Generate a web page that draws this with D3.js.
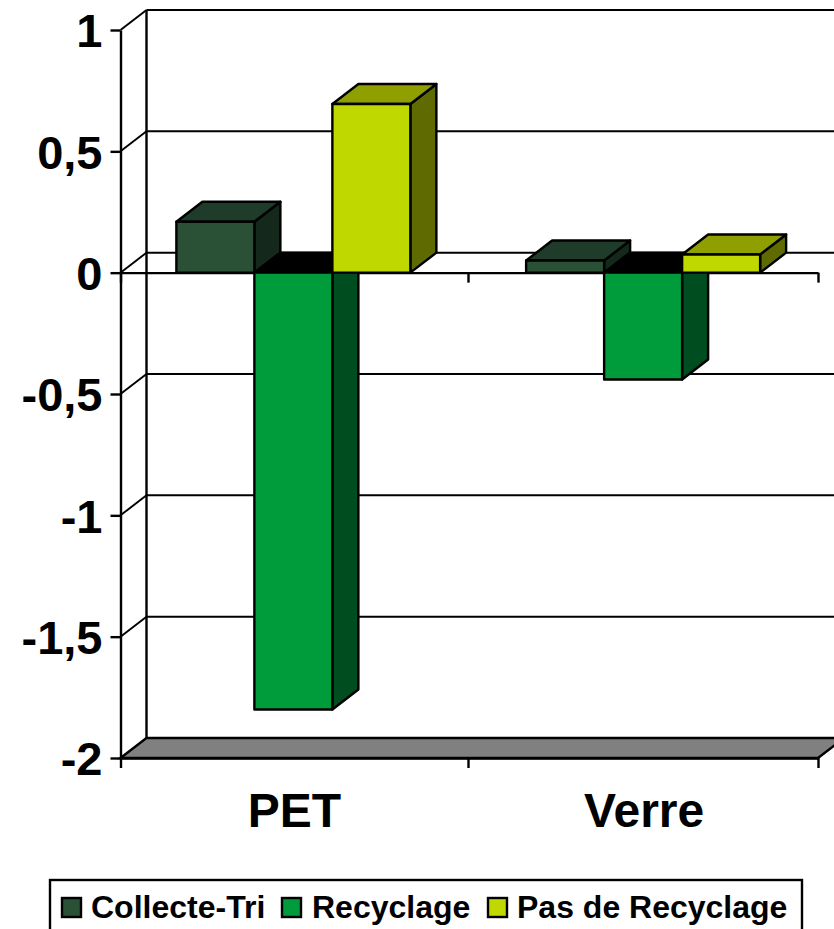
<!DOCTYPE html>
<html>
<head>
<meta charset="utf-8">
<style>
html, body { margin: 0; padding: 0; background: #fff; overflow: hidden; }
svg { display: block; font-family: "Liberation Sans", Arial, sans-serif; font-weight: bold; }
</style>
<script src="https://cdn.jsdelivr.net/npm/d3@7"></script>
</head>
<body>
<svg></svg>
<script>
const categories = ['PET', 'Verre']
const seriesNames = ['Collecte-Tri', 'Recyclage', 'Pas de Recyclage']
const collecteTri = [0.21, 0.05]
const recyclage = [-1.80, -0.44]
const pasDeRecyclage = [0.695, 0.075]
const yTicks = [1, 0.5, 0, -0.5, -1, -1.5, -2]
const yTickLabels = ['1', '0,5', '0', '-0,5', '-1', '-1,5', '-2']
const seriesValues = [collecteTri, recyclage, pasDeRecyclage]

// front, top, side
const colors = [
	['#2a5035', '#1f3b29', '#14291b'],
	['#009c3b', '#000000', '#004d1f'],
	['#bfd800', '#8f9f00', '#5f6b00']
]

const width = 834, height = 929
const plotL = 120.5, plotM = 468, plotR = 818, plotT = 30, plotB = 758
const depthX = 26, depthY = -20
const lw = 2.4

const svg = d3.select('svg').attr('width', width).attr('height', height)

const scY = d3.scaleLinear().domain([-2, 1]).range([plotB, plotT])
const scX = d3.scaleBand().domain(categories).range([119.5, 819])
const scEdge = d3.scaleLinear().domain([0, 1, 2]).range([plotL, plotM, plotR])
const scBar = d3.scaleBand().domain(d3.range(seriesNames.length))
	.range([-1, scX.bandwidth() - 1]).paddingOuter(0.742).paddingInner(0)

const pts = a => a.map(p => p.join(',')).join(' ')

// walls and floor
const wall = svg.append('g')

wall.append('polygon')
	.attr('points', pts([[plotL, plotB], [plotL + depthX, plotB + depthY], [plotR + depthX, plotB + depthY], [plotR, plotB]]))
	.attr('fill', '#808080').attr('stroke', '#000').attr('stroke-width', lw)

wall.selectAll('line.grid')
	.data(yTicks.filter(d => d != -2)).enter().append('line')
	.attr('class', 'grid')
	.attr('x1', plotL + depthX).attr('x2', width + 10)
	.attr('y1', d => scY(d) + depthY).attr('y2', d => scY(d) + depthY)
	.attr('stroke', '#000').attr('stroke-width', lw * 0.8)

wall.selectAll('line.diag')
	.data(yTicks.filter(d => d != -2)).enter().append('line')
	.attr('class', 'diag')
	.attr('x1', plotL).attr('x2', plotL + depthX)
	.attr('y1', d => scY(d)).attr('y2', d => scY(d) + depthY)
	.attr('stroke', '#000').attr('stroke-width', lw * 0.8)

wall.append('line')
	.attr('x1', plotL + depthX).attr('x2', plotL + depthX)
	.attr('y1', scY(1) + depthY).attr('y2', plotB + depthY)
	.attr('stroke', '#000').attr('stroke-width', lw)

// axis on the zero plane
let zeroAxis = svg.append('g')
	.attr('transform', `translate(0, ${scY(0)})`)
	.call(d3.axisBottom(scEdge).tickValues([0, 1, 2]).tickSize(10).tickSizeOuter(0).tickFormat(''))
zeroAxis.selectAll('path, line').attr('stroke', '#000').attr('stroke-width', lw)

// bars
const bars = svg.append('g')
seriesValues.forEach((vals, s) => {
	vals.forEach((v, c) => {
		let x0 = scX(categories[c]) + scBar(s)
		let x1 = x0 + scBar.bandwidth()
		let yTop = scY(Math.max(v, 0))
		let yBot = scY(Math.min(v, 0))
		let g = bars.append('g')
			.attr('stroke', '#000').attr('stroke-width', lw).attr('stroke-linejoin', 'round')
		g.append('polygon')
			.attr('points', pts([[x1, yTop], [x1 + depthX, yTop + depthY], [x1 + depthX, yBot + depthY], [x1, yBot]]))
			.attr('fill', colors[s][2])
		g.append('polygon')
			.attr('points', pts([[x0, yTop], [x0 + depthX, yTop + depthY], [x1 + depthX, yTop + depthY], [x1, yTop]]))
			.attr('fill', colors[s][1])
		g.append('rect')
			.attr('x', x0).attr('y', yTop)
			.attr('width', x1 - x0).attr('height', yBot - yTop)
			.attr('fill', colors[s][0])
	})
})

// value axis
let yAxis = svg.append('g')
	.attr('transform', `translate(${plotL}, 0)`)
	.call(d3.axisLeft(scY).tickValues(yTicks).tickSize(10).tickSizeOuter(0).tickPadding(8)
		.tickFormat((d, i) => yTickLabels[i]))
yAxis.selectAll('path, line').attr('stroke', '#000').attr('stroke-width', lw)
yAxis.selectAll('text')
	.attr('fill', '#000')
	.style('font-family', '"Liberation Sans", Arial, sans-serif')
	.style('font-weight', 'bold')
	.style('font-size', '47px')
	.attr('dy', '.36em')

// bottom axis: ticks on band edges, labels from the band scale
let edgeAxis = svg.append('g')
	.attr('transform', `translate(0, ${plotB})`)
	.call(d3.axisBottom(scEdge).tickValues([0, 1, 2]).tickSize(10).tickSizeOuter(0).tickFormat(''))
edgeAxis.selectAll('path, line').attr('stroke', '#000').attr('stroke-width', lw)

let catAxis = svg.append('g')
	.attr('transform', `translate(0, ${plotB})`)
	.call(d3.axisBottom(scX).tickSize(0).tickPadding(35))
catAxis.select('path').remove()
catAxis.selectAll('text')
	.attr('fill', '#000')
	.style('font-family', '"Liberation Sans", Arial, sans-serif')
	.style('font-weight', 'bold')
	.style('font-size', '48px')

// legend
const legend = svg.append('g')
legend.append('rect')
	.attr('x', 50).attr('y', 880).attr('width', 752).attr('height', 70)
	.attr('fill', '#fff').attr('stroke', '#000').attr('stroke-width', lw)

const legendX = [62, 282, 488]
const legendTextX = [91, 312, 517]
seriesNames.forEach((name, i) => {
	legend.append('rect')
		.attr('x', legendX[i]).attr('y', 898).attr('width', 19).attr('height', 19)
		.attr('fill', colors[i][0]).attr('stroke', '#000').attr('stroke-width', lw)
	legend.append('text')
		.attr('x', legendTextX[i]).attr('y', 918)
		.attr('fill', '#000')
		.style('font-size', '32px')
		.text(name)
})
</script>
</body>
</html>
